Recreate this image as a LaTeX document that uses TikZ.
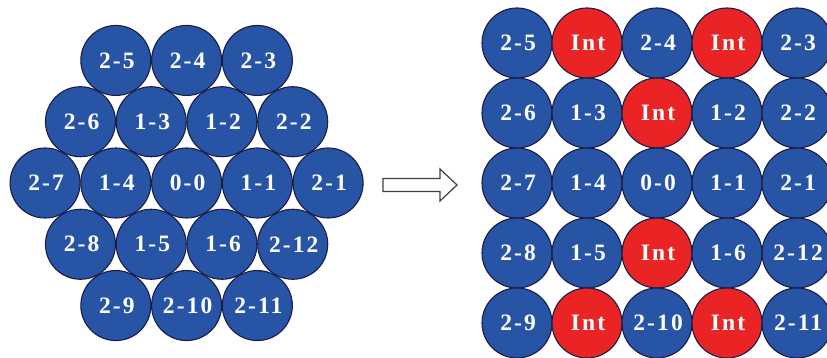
\documentclass[tikz,border=0pt]{standalone}
\usepackage{fontspec}
\setmainfont{Liberation Serif}
\newfontfamily\ballfont[LetterSpace=9]{Liberation Serif}
\definecolor{cblue}{RGB}{40,84,166}
\definecolor{cred}{RGB}{234,36,36}
\definecolor{cedge}{RGB}{25,28,70}
\begin{document}
\begin{tikzpicture}[x=1pt,y=1pt,
  ball/.style={circle,draw=cedge,line width=1.1pt,minimum size=70pt,inner sep=0pt,
    text=white,font=\ballfont\fontsize{23.5}{23.5}\selectfont\bfseries},
  blueball/.style={ball,fill=cblue},
  redball/.style={ball,fill=cred},
  bigarrow/.style={draw=black!75,line width=1.2pt,fill=white,line join=miter}]
\useasboundingbox (0,0) rectangle (827,357);
% left: hexagonal packing
\def\hx{186.6}\def\hy{174}\def\hd{70.75}\def\hr{61.27}
\foreach \lab [count=\i] in {2-5,2-4,2-3}
  \node[blueball] (hA\i) at ({\hx+(\i-2)*\hd},{\hy+2*\hr}) {\hspace{0.09em}\lab};
\foreach \lab [count=\i] in {2-6,1-3,1-2,2-2}
  \node[blueball] (hB\i) at ({\hx+(\i-2.5)*\hd},{\hy+\hr}) {\hspace{0.09em}\lab};
\foreach \lab [count=\i] in {2-7,1-4,0-0,1-1,2-1}
  \node[blueball] (hC\i) at ({\hx+(\i-3)*\hd},{\hy}) {\hspace{0.09em}\lab};
\foreach \lab [count=\i] in {2-8,1-5,1-6,2-12}
  \node[blueball] (hD\i) at ({\hx+(\i-2.5)*\hd},{\hy-\hr}) {\hspace{0.09em}\lab};
\foreach \lab [count=\i] in {2-9,2-10,2-11}
  \node[blueball] (hE\i) at ({\hx+(\i-2)*\hd},{\hy-2*\hr}) {\hspace{0.09em}\lab};
% arrow
\draw[bigarrow] (383,178.5) -- (440,178.5) -- (440,188) -- (457,172) -- (440,156)
  -- (440,165.5) -- (383,165.5) -- cycle;
% right: square grid
\def\gx{657}\def\gy{174}\def\gd{70}
\foreach \rowlist [count=\r] in {
  {2-5/blueball/0,Int/redball/0,2-4/blueball/0,Int/redball/0,2-3/blueball/0},
  {2-6/blueball/0,1-3/blueball/0,Int/redball/1,1-2/blueball/-4,2-2/blueball/0},
  {2-7/blueball/0,1-4/blueball/0,0-0/blueball/0,1-1/blueball/0,2-1/blueball/0},
  {2-8/blueball/0,1-5/blueball/0,Int/redball/1,1-6/blueball/-4,2-12/blueball/0},
  {2-9/blueball/0,Int/redball/0,2-10/blueball/0,Int/redball/0,2-11/blueball/0}}
{
  \foreach \lab/\sty/\dy [count=\c] in \rowlist
    \node[\sty] (g\r-\c) at ({\gx+(\c-3)*\gd},{\gy-(\r-3)*\gd}) {\hspace{0.09em}\raisebox{\dy pt}{\lab}};
}
\end{tikzpicture}
\end{document}
